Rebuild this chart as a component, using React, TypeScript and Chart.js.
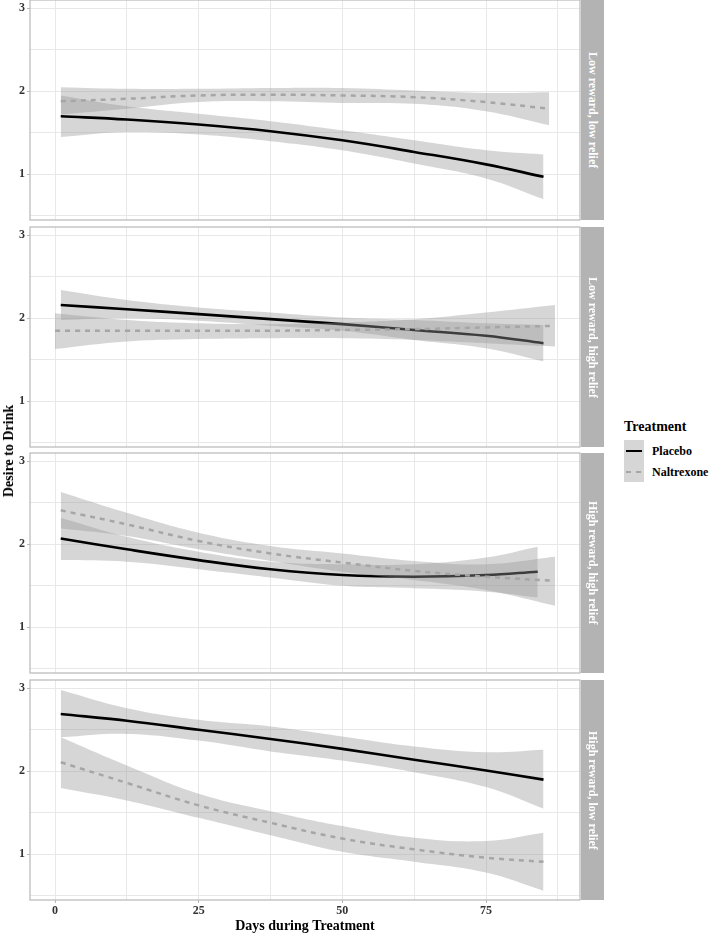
import React, { useEffect, useRef } from "react";
import { Chart, registerables } from "chart.js";

Chart.register(...registerables);

const FONT = "'Liberation Serif', 'Times New Roman', Times, serif";

// ---------- text ----------
const facetLabels = [
  "Low reward, low relief",
  "Low reward, high relief",
  "High reward, high relief",
  "High reward, low relief",
];
const treatmentNames = ["Placebo", "Naltrexone"];
const xAxisTitle = "Days during Treatment";
const yAxisTitle = "Desire to Drink";
const legendTitle = "Treatment";

// ---------- ticks ----------
const xMajorTicks = [0, 25, 50, 75];
const xMinorTicks = [12.5, 37.5, 62.5, 87.5];
const yMajorTicks = [1, 2, 3];
const yMinorTicks = [0.5, 1.5, 2.5];
const xLimits = [-4.35, 91.35];
const yLimits = [0.45, 3.1];

// ---------- panel 1 : Low reward, low relief ----------
const p1PlaceboDay = [1, 12.5, 25, 37.5, 50, 62.5, 75, 85];
const p1PlaceboFit = [1.7, 1.66, 1.6, 1.52, 1.41, 1.27, 1.12, 0.97];
const p1PlaceboUpper = [1.95, 1.82, 1.73, 1.64, 1.53, 1.41, 1.29, 1.24];
const p1PlaceboLower = [1.45, 1.51, 1.48, 1.4, 1.29, 1.13, 0.95, 0.7];
const p1NaltrexoneDay = [1, 12.5, 25, 37.5, 50, 62.5, 75, 86];
const p1NaltrexoneFit = [1.88, 1.91, 1.95, 1.96, 1.95, 1.93, 1.87, 1.79];
const p1NaltrexoneUpper = [2.05, 2.03, 2.03, 2.04, 2.04, 2.01, 1.98, 1.99];
const p1NaltrexoneLower = [1.72, 1.79, 1.87, 1.88, 1.86, 1.85, 1.76, 1.59];

// ---------- panel 2 : Low reward, high relief ----------
const p2PlaceboDay = [1, 12.5, 25, 37.5, 50, 62.5, 75, 85];
const p2PlaceboFit = [2.16, 2.11, 2.05, 1.99, 1.93, 1.86, 1.79, 1.7];
const p2PlaceboUpper = [2.34, 2.22, 2.13, 2.07, 2.01, 1.98, 1.94, 1.92];
const p2PlaceboLower = [1.98, 2.0, 1.97, 1.91, 1.85, 1.74, 1.64, 1.48];
const p2NaltrexoneDay = [0, 12.5, 25, 37.5, 50, 62.5, 75, 87];
const p2NaltrexoneFit = [1.85, 1.85, 1.85, 1.85, 1.86, 1.87, 1.89, 1.91];
const p2NaltrexoneUpper = [2.06, 1.98, 1.94, 1.93, 1.95, 1.99, 2.07, 2.16];
const p2NaltrexoneLower = [1.63, 1.72, 1.75, 1.76, 1.76, 1.74, 1.7, 1.66];

// ---------- panel 3 : High reward, high relief ----------
const p3PlaceboDay = [1, 12.5, 25, 37.5, 50, 62.5, 75, 84];
const p3PlaceboFit = [2.07, 1.94, 1.81, 1.7, 1.63, 1.61, 1.63, 1.67];
const p3PlaceboUpper = [2.32, 2.09, 1.91, 1.79, 1.76, 1.76, 1.84, 1.97];
const p3PlaceboLower = [1.81, 1.79, 1.7, 1.6, 1.5, 1.47, 1.43, 1.36];
const p3NaltrexoneDay = [1, 12.5, 25, 37.5, 50, 62.5, 75, 87];
const p3NaltrexoneFit = [2.41, 2.24, 2.04, 1.89, 1.78, 1.68, 1.61, 1.56];
const p3NaltrexoneUpper = [2.63, 2.38, 2.14, 1.98, 1.89, 1.8, 1.76, 1.85];
const p3NaltrexoneLower = [2.19, 2.1, 1.94, 1.8, 1.67, 1.57, 1.45, 1.26];

// ---------- panel 4 : High reward, low relief ----------
const p4PlaceboDay = [1, 12.5, 25, 37.5, 50, 62.5, 75, 85];
const p4PlaceboFit = [2.69, 2.61, 2.5, 2.39, 2.27, 2.14, 2.01, 1.9];
const p4PlaceboUpper = [2.98, 2.76, 2.62, 2.54, 2.42, 2.3, 2.23, 2.26];
const p4PlaceboLower = [2.41, 2.45, 2.37, 2.24, 2.13, 1.99, 1.81, 1.55];
const p4NaltrexoneDay = [1, 12.5, 25, 37.5, 50, 62.5, 75, 85];
const p4NaltrexoneFit = [2.11, 1.86, 1.59, 1.38, 1.19, 1.06, 0.96, 0.91];
const p4NaltrexoneUpper = [2.41, 2.07, 1.73, 1.52, 1.34, 1.2, 1.16, 1.26];
const p4NaltrexoneLower = [1.8, 1.65, 1.44, 1.23, 1.03, 0.91, 0.78, 0.56];

const panels = [
  {
    label: facetLabels[0],
    placebo: { day: p1PlaceboDay, fit: p1PlaceboFit, upper: p1PlaceboUpper, lower: p1PlaceboLower },
    naltrexone: { day: p1NaltrexoneDay, fit: p1NaltrexoneFit, upper: p1NaltrexoneUpper, lower: p1NaltrexoneLower },
  },
  {
    label: facetLabels[1],
    placebo: { day: p2PlaceboDay, fit: p2PlaceboFit, upper: p2PlaceboUpper, lower: p2PlaceboLower },
    naltrexone: { day: p2NaltrexoneDay, fit: p2NaltrexoneFit, upper: p2NaltrexoneUpper, lower: p2NaltrexoneLower },
  },
  {
    label: facetLabels[2],
    placebo: { day: p3PlaceboDay, fit: p3PlaceboFit, upper: p3PlaceboUpper, lower: p3PlaceboLower },
    naltrexone: { day: p3NaltrexoneDay, fit: p3NaltrexoneFit, upper: p3NaltrexoneUpper, lower: p3NaltrexoneLower },
  },
  {
    label: facetLabels[3],
    placebo: { day: p4PlaceboDay, fit: p4PlaceboFit, upper: p4PlaceboUpper, lower: p4PlaceboLower },
    naltrexone: { day: p4NaltrexoneDay, fit: p4NaltrexoneFit, upper: p4NaltrexoneUpper, lower: p4NaltrexoneLower },
  },
];

// ---------- layout / style ----------
const PANEL_TOPS = [0, 227, 453, 680];
const PANEL_H = 220;
const AREA_LEFT = 30;
const AREA_RIGHT = 580;
const CANVAS_W = 590;
const PAGE_H = 936;

const GRID = "#e8e8e8";
const FRAME = "#b8b8b8";
const TICK_TEXT = "#333333";
const RIBBON = "rgba(153,153,153,0.4)";
const PLACEBO_COLOR = "#000000";
const NALTREXONE_COLOR = "#a6a6a6";

const panelBorder = {
  id: "panelBorder",
  afterDatasetsDraw(chart: any) {
    const { ctx, chartArea: a } = chart;
    ctx.save();
    ctx.strokeStyle = FRAME;
    ctx.lineWidth = 1.2;
    ctx.strokeRect(a.left, a.top, a.right - a.left, a.bottom - a.top);
    ctx.restore();
  },
};

function pts(xs: number[], ys: number[]) {
  return xs.map((x, i) => ({ x, y: ys[i] }));
}

function Panel({ idx }: { idx: number }) {
  const ref = useRef<HTMLCanvasElement>(null);
  const isBottom = idx === panels.length - 1;
  const top = PANEL_TOPS[idx] - 2;
  const height = isBottom ? PAGE_H - top : PANEL_H + 4;

  useEffect(() => {
    const p = panels[idx];
    const common = { pointRadius: 0, pointHoverRadius: 0, tension: 0.4 };
    const chart = new Chart(ref.current as HTMLCanvasElement, {
      type: "line",
      data: {
        datasets: [
          {
            ...common,
            label: treatmentNames[1],
            data: pts(p.naltrexone.day, p.naltrexone.fit),
            borderColor: NALTREXONE_COLOR,
            borderWidth: 2.5,
            borderDash: [5, 5],
            fill: false,
            order: 0,
          },
          {
            ...common,
            label: treatmentNames[1] + " upper",
            data: pts(p.naltrexone.day, p.naltrexone.upper),
            borderColor: "rgba(0,0,0,0)",
            borderWidth: 0,
            backgroundColor: RIBBON,
            fill: "+1",
            order: 1,
          },
          {
            ...common,
            label: treatmentNames[1] + " lower",
            data: pts(p.naltrexone.day, p.naltrexone.lower),
            borderColor: "rgba(0,0,0,0)",
            borderWidth: 0,
            fill: false,
            order: 2,
          },
          {
            ...common,
            label: treatmentNames[0],
            data: pts(p.placebo.day, p.placebo.fit),
            borderColor: PLACEBO_COLOR,
            borderWidth: 2.6,
            fill: false,
            order: 3,
          },
          {
            ...common,
            label: treatmentNames[0] + " upper",
            data: pts(p.placebo.day, p.placebo.upper),
            borderColor: "rgba(0,0,0,0)",
            borderWidth: 0,
            backgroundColor: RIBBON,
            fill: "+1",
            order: 4,
          },
          {
            ...common,
            label: treatmentNames[0] + " lower",
            data: pts(p.placebo.day, p.placebo.lower),
            borderColor: "rgba(0,0,0,0)",
            borderWidth: 0,
            fill: false,
            order: 5,
          },
        ],
      },
      options: {
        animation: false,
        responsive: true,
        maintainAspectRatio: false,
        events: [],
        layout: { padding: { left: 0, right: CANVAS_W - AREA_RIGHT, top: 2, bottom: isBottom ? 0 : 2 } },
        plugins: { legend: { display: false }, tooltip: { enabled: false }, title: { display: false } },
        scales: {
          x: {
            type: "linear",
            min: xLimits[0],
            max: xLimits[1],
            afterBuildTicks: (s: any) => {
              s.ticks = [...xMajorTicks, ...xMinorTicks].sort((a, b) => a - b).map((v) => ({ value: v }));
            },
            afterFit: (s: any) => {
              s.height = isBottom ? height - 2 - PANEL_H : 0;
              s.paddingLeft = 0;
              s.paddingRight = 0;
            },
            ticks: {
              display: isBottom,
              autoSkip: false,
              maxRotation: 0,
              padding: 1,
              color: TICK_TEXT,
              font: { family: FONT, size: 12, weight: "bold" },
              callback: (v: any) => (xMajorTicks.includes(Number(v)) ? String(v) : ""),
            },
            grid: {
              color: GRID,
              lineWidth: 1,
              drawTicks: isBottom,
              tickLength: 3,
              tickWidth: 1,
              tickColor: (c: any) => (c.tick && xMajorTicks.includes(c.tick.value) ? FRAME : "rgba(0,0,0,0)"),
            },
            border: { display: false },
            title: {
              display: isBottom,
              text: xAxisTitle,
              color: "#000",
              font: { family: FONT, size: 14, weight: "bold" },
              padding: { top: 0, bottom: 1 },
            },
          },
          y: {
            type: "linear",
            min: yLimits[0],
            max: yLimits[1],
            afterBuildTicks: (s: any) => {
              s.ticks = [...yMajorTicks, ...yMinorTicks].sort((a, b) => a - b).map((v) => ({ value: v }));
            },
            afterFit: (s: any) => {
              s.width = AREA_LEFT;
              s.paddingTop = 0;
              s.paddingBottom = 0;
            },
            ticks: {
              autoSkip: false,
              padding: 2,
              color: TICK_TEXT,
              font: { family: FONT, size: 12, weight: "bold" },
              callback: (v: any) => (yMajorTicks.includes(Number(v)) ? String(v) : ""),
            },
            grid: {
              color: GRID,
              lineWidth: 1,
              drawTicks: true,
              tickLength: 3,
              tickWidth: 1,
              tickColor: (c: any) => (c.tick && yMajorTicks.includes(c.tick.value) ? FRAME : "rgba(0,0,0,0)"),
            },
            border: { display: false },
          },
        },
      },
      plugins: [panelBorder],
    } as any);
    return () => chart.destroy();
  }, [idx]);

  return (
    <div style={{ position: "absolute", left: 0, top, width: CANVAS_W, height }}>
      <canvas ref={ref} />
    </div>
  );
}

export default function App() {
  return (
    <div
      style={{
        position: "absolute",
        left: 0,
        top: 0,
        width: 709,
        height: PAGE_H,
        background: "#fff",
        fontFamily: FONT,
        overflow: "hidden",
      }}
    >
      {panels.map((_, i) => (
        <Panel key={i} idx={i} />
      ))}

      {panels.map((p, i) => (
        <div
          key={"strip" + i}
          style={{
            position: "absolute",
            left: 581,
            top: PANEL_TOPS[i],
            width: 23,
            height: PANEL_H,
            background: "#b3b3b3",
            display: "flex",
            alignItems: "center",
            justifyContent: "center",
          }}
        >
          <span
            style={{
              writingMode: "vertical-rl",
              color: "#fff",
              fontWeight: "bold",
              fontSize: 12,
              lineHeight: "14px",
              whiteSpace: "nowrap",
            }}
          >
            {p.label}
          </span>
        </div>
      ))}

      <div
        style={{
          position: "absolute",
          left: 9,
          top: 451,
          transform: "translate(-50%, -50%) rotate(-90deg)",
          whiteSpace: "nowrap",
          fontSize: 14,
          fontWeight: "bold",
          lineHeight: "16px",
          color: "#000",
        }}
      >
        {yAxisTitle}
      </div>

      {/* legend */}
      <div style={{ position: "absolute", left: 624, top: 419, fontSize: 14, fontWeight: "bold", lineHeight: "16px", color: "#000" }}>
        {legendTitle}
      </div>
      <div style={{ position: "absolute", left: 624, top: 440, width: 20, height: 21, background: "#d6d6d6" }}>
        <div style={{ position: "absolute", left: 2, top: 9.5, width: 16, height: 2.6, background: PLACEBO_COLOR }} />
      </div>
      <div style={{ position: "absolute", left: 624, top: 461, width: 20, height: 21, background: "#d6d6d6" }}>
        <div style={{ position: "absolute", left: 2, top: 9.5, width: 5, height: 2.4, background: NALTREXONE_COLOR }} />
        <div style={{ position: "absolute", left: 12, top: 9.5, width: 5, height: 2.4, background: NALTREXONE_COLOR }} />
      </div>
      <div style={{ position: "absolute", left: 652, top: 443, fontSize: 12, fontWeight: "bold", lineHeight: "16px", color: "#000" }}>
        {treatmentNames[0]}
      </div>
      <div style={{ position: "absolute", left: 652, top: 464, fontSize: 12, fontWeight: "bold", lineHeight: "16px", color: "#000" }}>
        {treatmentNames[1]}
      </div>
    </div>
  );
}
